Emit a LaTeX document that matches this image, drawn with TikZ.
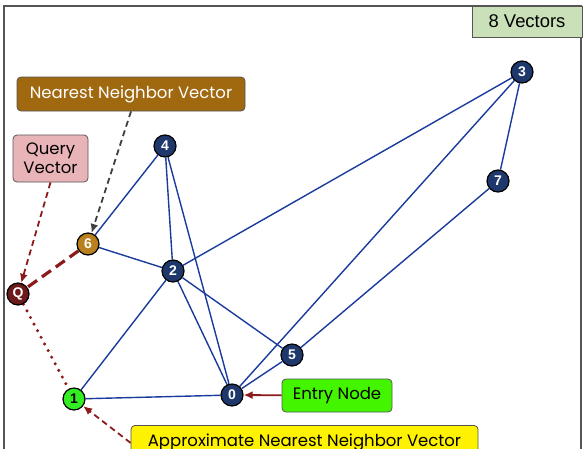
\documentclass[tikz,border=0pt]{standalone}
\usepackage{fontspec}
\setmainfont{Poppins}
\newfontfamily\arialfont{Liberation Sans}
\usetikzlibrary{arrows.meta}
\pgfdeclarelayer{bg}
\pgfsetlayers{bg,main}
\definecolor{navy}{HTML}{1F386C}
\definecolor{linkblue}{HTML}{1A3A9C}
\definecolor{framegray}{HTML}{555555}
\definecolor{darkred}{HTML}{8B1A1A}
\definecolor{qred}{HTML}{6E1A1A}
\definecolor{brownbox}{HTML}{A0680F}
\definecolor{brownnode}{HTML}{B8801E}
\definecolor{pinkbox}{HTML}{E8B4B8}
\definecolor{entrygreen}{HTML}{44F500}
\definecolor{nodegreen}{HTML}{33EE22}
\definecolor{countgreen}{HTML}{C9E0B9}
\tikzset{
    vec/.style={circle, inner sep=0mm, draw=black, line width=1.2pt, minimum size=22pt, fill=navy, text=white, font=\arialfont\bfseries\fontsize{14}{14}\selectfont},
    tag/.style={rectangle, rounded corners=4pt, draw=framegray, line width=0.8pt, inner sep=0mm, font=\fontsize{16.5}{19.5}\selectfont}
}
\tikzset{
    link/.style={draw=linkblue, line width=1.4pt},
    hint/.style={line width=1.8pt, dash pattern=on 6pt off 4pt, -{Latex[length=9pt, width=8pt]}}
}

\begin{document}
\begin{tikzpicture}[x=1pt, y=-1pt]
    \useasboundingbox (0,0) rectangle (585,448);
    \clip (0,0) rectangle (585,448);
    \draw[framegray, line width=1.4pt] (4,470) -- (4,6) -- (581,6) -- (581,470);

    \node (n0) at (232, 395) [vec] {0};
    \node (n1) at (74, 399) [vec, fill=nodegreen, text=black] {1};
    \node (n2) at (173, 271) [vec] {2};
    \node (n3) at (522, 72) [vec] {3};
    \node (n4) at (165, 146) [vec] {4};
    \node (n5) at (292, 355) [vec] {5};
    \node (n6) at (88, 244) [vec, fill=brownnode] {6};
    \node (n7) at (498, 181) [vec] {7};
    \node (nq) at (18, 294) [vec, fill=qred] {Q};

    \begin{pgfonlayer}{bg}
        \draw (n4) edge [link] (n6);
        \draw (n4) edge [link] (n2);
        \draw (n4) edge [link] (n0);
        \draw (n6) edge [link] (n2);
        \draw (n2) edge [link] (n1);
        \draw (n2) edge [link] (n0);
        \draw (n2) edge [link] (n5);
        \draw (n2) edge [link] (n3);
        \draw (n1) edge [link] (n0);
        \draw (n0) edge [link] (n3);
        \draw (n0) edge [link] (n5);
        \draw (n5) edge [link] (n7);
        \draw (n3) edge [link] (n7);
        \draw (n6) edge [darkred, line width=3.2pt, dash pattern=on 11pt off 6pt] (nq);
        \draw (nq) edge [darkred, line width=3.4pt, line cap=round, dash pattern=on 0pt off 7.5pt] (n1);
    \end{pgfonlayer}

    \node (count) at (527, 21.5) [tag, rounded corners=0pt, fill=countgreen, minimum width=110pt, minimum height=31pt, font=\arialfont\fontsize{18.4}{21}\selectfont] {8 Vectors};
    \node (nearest) at (131, 94) [tag, fill=brownbox, text=white, minimum width=228pt, minimum height=34pt] {Nearest Neighbor Vector};
    \node (query) at (50.5, 158.5) [tag, fill=pinkbox, align=center, minimum width=75pt, minimum height=47pt] {Query\\Vector};
    \node (entry) at (337, 395.5) [tag, fill=entrygreen, minimum width=110pt, minimum height=33pt] {Entry Node};
    \node (approx) at (304.5, 425) [tag, anchor=north, fill=yellow, minimum width=347pt, minimum height=35pt] {Approximate Nearest Neighbor Vector};

    \draw (nearest.south) edge [hint, black!75] (n6);
    \draw (query.south) edge [hint, darkred] (nq);
    \draw (approx.west) edge [hint, darkred] (n1);
    \draw (entry) edge [darkred, line width=1.8pt, -{Latex[length=9pt, width=8pt]}] (n0);
\end{tikzpicture}
\end{document}
